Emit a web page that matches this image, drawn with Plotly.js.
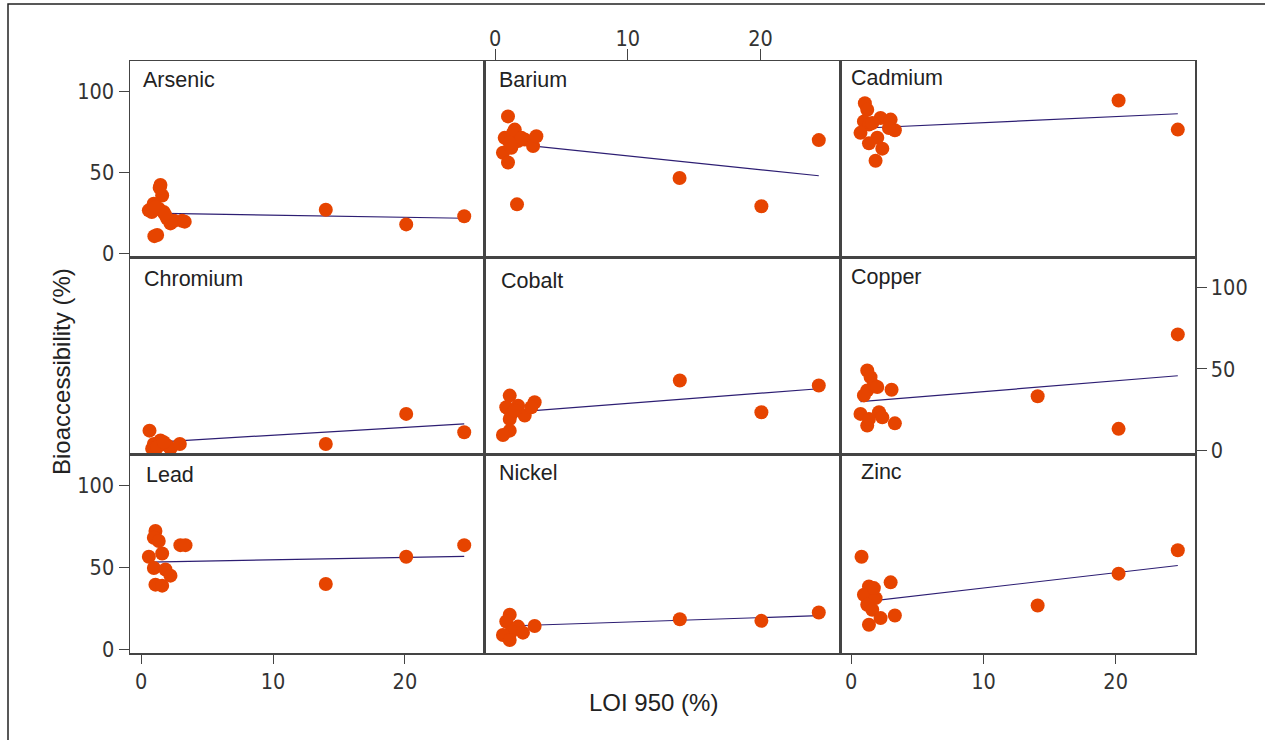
<!DOCTYPE html>
<html>
<head>
<meta charset="utf-8">
<script src="https://cdn.plot.ly/plotly-3.0.1.min.js"></script>
<style>html,body{margin:0;padding:0;background:#fff;}#chart{width:1265px;height:740px;}</style>
</head>
<body>
<div id="chart"></div>
<script>
// ---- Data ----
const elements = ["Arsenic","Barium","Cadmium","Chromium","Cobalt","Copper","Lead","Nickel","Zinc"];

const arsenicLOI = [1.46,1.59,0.95,0.58,1.33,1.7,1.97,2.22,3.1,1.21,0.8,1.1,1.0,2.5,3.3,1.8,1.4,14.0,20.1,24.5];
const arsenicBA  = [42.2,35.7,30.6,26.5,27.5,25.5,21.4,18.4,20.0,11.2,25.5,28.5,10.5,20.0,19.5,24.0,40.5,26.9,17.8,22.8];

const bariumLOI = [0.96,1.47,0.71,1.21,1.72,2.22,2.85,3.1,0.58,0.96,1.21,1.64,1.34,1.97,1.08,13.9,20.07,24.4];
const bariumBA  = [84.7,76.5,71.4,71.4,69.4,70.4,66.3,72.4,62.2,56.1,65.3,30.2,74.5,71.4,68.3,46.5,29.0,70.0];

const cadmiumLOI = [1.03,1.21,0.96,1.34,2.22,2.98,3.3,0.7,1.97,1.34,2.35,1.84,1.59,2.85,20.22,24.7];
const cadmiumBA  = [92.8,88.8,81.6,79.6,83.7,82.7,76.1,74.5,71.5,68.0,64.7,57.2,80.6,77.5,94.5,76.5];

const chromiumLOI = [0.63,0.96,1.46,0.83,1.97,2.22,2.93,1.21,1.71,14.0,20.1,24.5];
const chromiumBA  = [12.0,3.8,5.9,0.8,2.9,0.8,3.8,1.8,4.9,3.8,22.3,11.0];

const cobaltLOI = [1.09,0.83,1.72,1.21,2.22,2.97,2.72,1.09,1.09,0.58,1.46,13.92,20.07,24.4];
const cobaltBA  = [33.6,26.4,27.4,22.3,21.3,29.5,26.4,19.2,12.0,9.3,24.3,42.9,23.3,39.8];

const copperLOI = [1.21,1.46,1.71,1.21,0.96,1.97,3.05,0.7,2.1,2.35,1.21,3.3,1.34,14.1,20.22,24.7];
const copperBA  = [49.1,45.0,39.9,36.8,33.7,38.9,37.2,22.3,23.3,20.2,15.1,16.5,19.2,33.2,13.1,71.3];

const leadLOI = [1.08,0.96,1.33,0.58,1.59,0.96,1.84,2.22,1.08,1.59,2.97,3.36,14.0,20.1,24.5];
const leadBA  = [72.0,67.9,65.9,56.3,58.3,49.5,48.5,44.8,39.3,38.7,63.4,63.4,39.7,56.3,63.4];

const nickelLOI = [1.09,0.83,1.72,1.21,0.58,1.09,2.09,2.97,13.92,20.07,24.4];
const nickelBA  = [20.9,16.8,13.7,10.6,8.6,5.5,10.0,14.1,18.2,17.2,22.3];

const zincLOI = [0.78,1.34,0.96,1.84,1.21,1.59,2.22,3.3,1.34,2.98,1.71,14.1,20.22,24.7];
const zincBA  = [56.3,38.2,33.1,31.1,27.0,24.0,18.9,20.5,14.8,40.7,37.2,26.6,46.0,60.3];

// linear fit lines (intercept, slope)
const fitIntercept = [24.8, 68.8, 77.1, 4.35, 22.5, 29.4, 53.0, 13.8, 27.9];
const fitSlope     = [-0.13, -0.856, 0.373, 0.484, 0.627, 0.665, 0.147, 0.27, 0.935];

const xTicks = [0, 10, 20];
const yTicks = [0, 50, 100];
const xTitle = "LOI 950 (%)";
const yTitle = "Bioaccessibility (%)";

// ---- Build ----
const xs = [arsenicLOI,bariumLOI,cadmiumLOI,chromiumLOI,cobaltLOI,copperLOI,leadLOI,nickelLOI,zincLOI];
const ys = [arsenicBA,bariumBA,cadmiumBA,chromiumBA,cobaltBA,copperBA,leadBA,nickelBA,zincBA];

const W = 1265, H = 740;
const colEdges = [130, 484, 840, 1195];
const rowEdges = [61, 257, 454, 653];
const labelPos = [[141,80],[497,80],[849,78],[142,279],[499,281],[849,277],[144,475],[497,473],[859,472]];

const ptColor = 'rgb(230,68,0)';
const lineColor = 'rgb(45,30,115)';
const frameColor = '#444';
const tickFont = {family: 'DejaVu Sans Condensed, DejaVu Sans, sans-serif', size: 21.5, color: '#333'};

const traces = [];
const layout = {
  width: W, height: H,
  margin: {l:0, r:0, t:0, b:0},
  paper_bgcolor: '#fff', plot_bgcolor: '#fff',
  showlegend: false,
  annotations: [], shapes: []
};

for (let i = 0; i < 9; i++) {
  const r = Math.floor(i / 3), c = i % 3;
  const sfx = i === 0 ? '' : String(i + 1);
  const xa = 'x' + sfx, ya = 'y' + sfx;

  const xmin = Math.min(...xs[i]), xmax = Math.max(...xs[i]);
  traces.push({
    type: 'scatter', mode: 'lines', xaxis: xa, yaxis: ya,
    x: [xmin, xmax],
    y: [fitIntercept[i] + fitSlope[i] * xmin, fitIntercept[i] + fitSlope[i] * xmax],
    line: {color: lineColor, width: 1.2}, hoverinfo: 'skip'
  });
  traces.push({
    type: 'scatter', mode: 'markers', xaxis: xa, yaxis: ya,
    x: xs[i], y: ys[i],
    marker: {color: ptColor, size: 14, line: {width: 0}}
  });

  const showX = (i === 1 || i === 6 || i === 8);
  const showY = (i === 0 || i === 6 || i === 5);
  layout['xaxis' + sfx] = {
    domain: [colEdges[c] / W, colEdges[c + 1] / W],
    range: [-0.85, 26], anchor: ya,
    showline: true, mirror: true, linecolor: frameColor, linewidth: 1.5,
    showgrid: false, zeroline: false,
    tickmode: 'array', tickvals: xTicks, ticktext: xTicks.map(String),
    ticks: showX ? 'outside' : '', ticklen: i === 1 ? 11 : 9, tickcolor: frameColor, tickwidth: 1,
    showticklabels: showX, side: i === 1 ? 'top' : 'bottom',
    ticklabelstandoff: i === 1 ? -6 : 0,
    tickfont: tickFont, fixedrange: true
  };
  layout['yaxis' + sfx] = {
    domain: [1 - rowEdges[r + 1] / H, 1 - rowEdges[r] / H],
    range: [-2.4, 119], anchor: xa,
    showline: true, mirror: true, linecolor: frameColor, linewidth: 1.5,
    showgrid: false, zeroline: false,
    tickmode: 'array', tickvals: yTicks, ticktext: yTicks.map(String),
    ticks: showY ? 'outside' : '', ticklen: 10, tickcolor: frameColor, tickwidth: 1,
    showticklabels: showY, side: i === 5 ? 'right' : 'left',
    tickfont: tickFont, fixedrange: true
  };

  layout.annotations.push({
    xref: 'paper', yref: 'paper',
    x: labelPos[i][0] / W, y: 1 - labelPos[i][1] / H,
    xanchor: 'left', yanchor: 'middle', showarrow: false,
    text: elements[i],
    font: {family: 'Liberation Sans, Arial, sans-serif', size: 21.5, color: '#222'}
  });
}

layout.annotations.push({
  xref: 'paper', yref: 'paper', x: 61 / W, y: 1 - 372 / H,
  xanchor: 'center', yanchor: 'middle', showarrow: false, textangle: -90,
  text: yTitle, font: {family: 'Liberation Sans, Arial, sans-serif', size: 24, color: '#222'}
});
layout.annotations.push({
  xref: 'paper', yref: 'paper', x: 653 / W, y: 1 - 702 / H,
  xanchor: 'center', yanchor: 'middle', showarrow: false,
  text: xTitle, font: {family: 'Liberation Sans, Arial, sans-serif', size: 24, color: '#222'}
});

// outer figure frame
layout.shapes.push({
  type: 'rect', xref: 'paper', yref: 'paper',
  x0: 8 / W, x1: 1.02, y0: -0.02, y1: 1 - 4 / H,
  line: {color: '#222', width: 1.5}, fillcolor: 'rgba(0,0,0,0)'
});

Plotly.newPlot('chart', traces, layout, {displayModeBar: false, staticPlot: true});
</script>
</body>
</html>
